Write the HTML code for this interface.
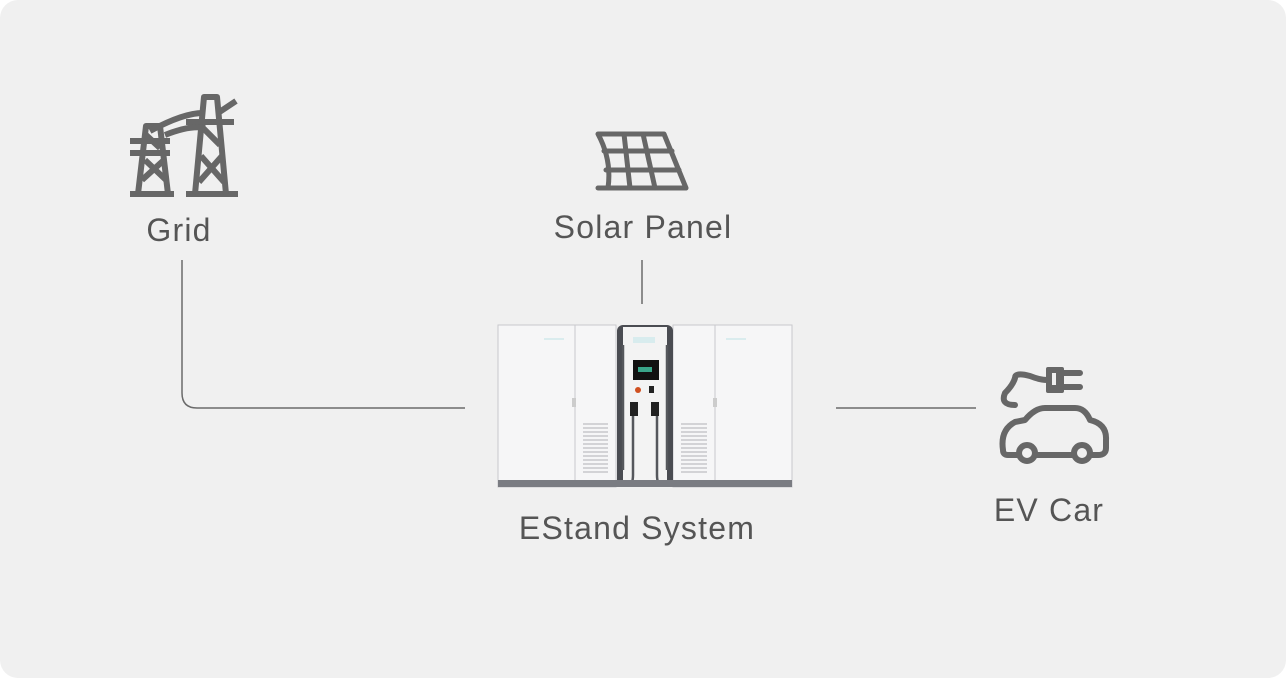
<!DOCTYPE html>
<html><head><style>
body{margin:0;width:1286px;height:678px;background:#fff;overflow:hidden;font-family:"Liberation Sans",sans-serif}
.card{position:absolute;left:0;top:0;width:1286px;height:678px;background:#f0f0f0;border-radius:18px}
.t{position:absolute;color:#555;font-size:32px;letter-spacing:1.2px;transform:translateX(-50%);white-space:nowrap}
</style></head><body>
<div class="card"></div>
<svg width="1286" height="678" style="position:absolute;left:0;top:0">
<g fill="none" stroke="#6a6a6a" stroke-width="1.5">
<path d="M182 260 V393 Q182 408 197 408 H465"/>
<path d="M642 260 V304"/>
<path d="M836 408 H976"/>
</g>
<g fill="none" stroke="#676767" stroke-width="6" stroke-linejoin="round">
<path d="M130 194h44M186 194h52"/>
<path d="M138 194 L146 126 h14 L168 194"/>
<path d="M195 194 L204 97 h13 L226 194"/>
<path d="M130 141h40M130 153h40M186 122h48"/>
<path d="M142 180 L164 160 M145 160 L166 180 M146 135 L160 148"/>
<path d="M199 182 L222 156 M201 156 L224 182 M203 128 L220 145"/>
<path d="M150 131 Q185 112 205 113 M165 135 Q190 125 205 128 M218 113 L236 101"/>
</g>
<g fill="none" stroke="#676767" stroke-width="5" stroke-linejoin="round" stroke-linecap="round">
<path d="M598 134 H664 L686 188 H608 Q612 160 598 134Z"/>
<path d="M604 151 H672 M606 170 H679 M624 134 L630 188 M643 134 L655 188"/>
<path d="M608 188 L598 188"/>
</g>
<g fill="none" stroke="#676767" stroke-width="6" stroke-linecap="round" stroke-linejoin="round">
<path d="M1003 450 Q1000 430 1015 422 L1025 420 Q1035 408 1045 408 H1075 Q1085 408 1090 420 Q1107 424 1106 440 V448 Q1106 455 1098 455 H1090 M1074 455 H1036 M1018 455 H1008 Q1003 455 1003 450"/>
<circle cx="1027" cy="453" r="8"/><circle cx="1082" cy="453" r="8"/>
<path d="M1015 405 Q1000 405 1005 393 Q1013 385 1015 378 Q1015 372 1030 376 Q1040 380 1047 380"/>
<path d="M1064 373 H1080 M1064 387 H1080"/>
</g>
<rect x="1046" y="367" width="18" height="26" rx="2" fill="#676767"/>
<rect x="1052" y="373" width="4" height="12" fill="#f0f0f0"/>
<g>
<rect x="498" y="325" width="118" height="162" fill="#f6f6f7" stroke="#c8c8cc"/>
<line x1="575" y1="325" x2="575" y2="487" stroke="#c8c8cc"/>
<rect x="673" y="325" width="119" height="162" fill="#f6f6f7" stroke="#c8c8cc"/>
<line x1="715" y1="325" x2="715" y2="487" stroke="#c8c8cc"/>
<rect x="617" y="325" width="56" height="162" rx="6" fill="#4a4c52"/>
<rect x="623" y="327" width="44" height="160" fill="#f3f3f3"/>
<rect x="633" y="337" width="22" height="6" fill="#d8ecee"/>
<rect x="633" y="360" width="26" height="20" fill="#111"/>
<rect x="638" y="367" width="14" height="5" fill="#3aa58a"/>
<circle cx="638" cy="390" r="3" fill="#d05020"/>
<rect x="649" y="386" width="5" height="7" fill="#222"/>
<path d="M633 405 V475 Q633 485 628 485 M657 405 V475 Q657 485 662 485 M623 345 V470 M667 345 V470" stroke="#55575c" stroke-width="2.5" fill="none"/>
<rect x="630" y="402" width="8" height="14" fill="#222"/><rect x="651" y="402" width="8" height="14" fill="#222"/>
<rect x="498" y="480" width="294" height="7" fill="#7a7c82"/>
<g stroke="#b0b0b4" stroke-width="1">
<path d="M583 424h25M583 428h25M583 432h25M583 436h25M583 440h25M583 444h25M583 448h25M583 452h25M583 456h25M583 460h25M583 464h25M583 468h25M583 472h25"/>
<path d="M681 424h26M681 428h26M681 432h26M681 436h26M681 440h26M681 444h26M681 448h26M681 452h26M681 456h26M681 460h26M681 464h26M681 468h26M681 472h26"/>
</g>
<rect x="572" y="398" width="4" height="9" fill="#ccc"/><rect x="713" y="398" width="4" height="9" fill="#ccc"/>
<path d="M544 339h20M726 339h20" stroke="#bde3e6" stroke-width="1"/>
</g>
</svg>
<div class="t" style="left:179px;top:212px">Grid</div>
<div class="t" style="left:643px;top:209px">Solar Panel</div>
<div class="t" style="left:637px;top:510px">EStand System</div>
<div class="t" style="left:1049px;top:492px">EV Car</div>
</body></html>
